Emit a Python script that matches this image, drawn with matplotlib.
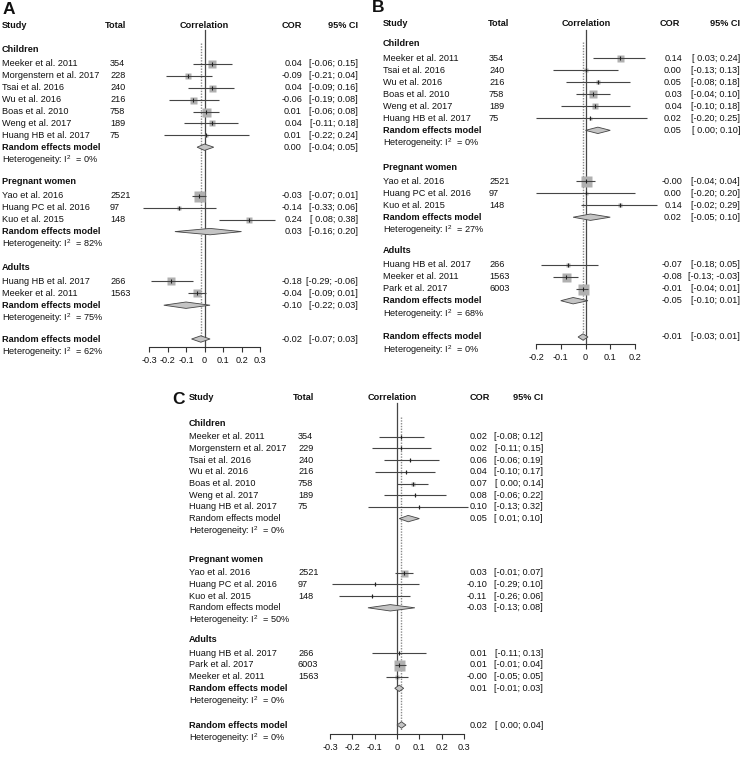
import matplotlib
matplotlib.use("Agg")
import matplotlib.pyplot as plt
from matplotlib import transforms
from matplotlib.patches import Polygon
import numpy as np

plt.rcParams['font.family'] = ['Liberation Sans', 'DejaVu Sans']
plt.rcParams['mathtext.fontset'] = 'custom'
plt.rcParams['mathtext.rm'] = 'Liberation Sans'
plt.rcParams['mathtext.it'] = 'Liberation Sans:italic'
plt.rcParams['mathtext.bf'] = 'Liberation Sans:bold'

W, H = 741, 770
FS = 6.6

# ------------------------------------------------------------------ data
group_names = ["Children", "Pregnant women", "Adults"]

# ---- Panel A
A_child_study = ["Meeker et al. 2011", "Morgenstern et al. 2017", "Tsai et al. 2016",
                 "Wu et al. 2016", "Boas et al. 2010", "Weng et al. 2017", "Huang HB et al. 2017"]
A_child_total = [354, 228, 240, 216, 758, 189, 75]
A_child_cor = [0.04, -0.09, 0.04, -0.06, 0.01, 0.04, 0.01]
A_child_lo = [-0.06, -0.21, -0.09, -0.19, -0.06, -0.11, -0.22]
A_child_hi = [0.15, 0.04, 0.16, 0.08, 0.08, 0.18, 0.24]
A_child_w = [6.4, 3.6, 4.9, 4.9, 8.1, 3.6, 0.9]

A_preg_study = ["Yao et al. 2016", "Huang PC et al. 2016", "Kuo et al. 2015"]
A_preg_total = [2521, 97, 148]
A_preg_cor = [-0.03, -0.14, 0.24]
A_preg_lo = [-0.07, -0.33, 0.08]
A_preg_hi = [0.01, 0.06, 0.38]
A_preg_w = [12.1, 2.5, 3.6]

A_adult_study = ["Huang HB et al. 2017", "Meeker et al. 2011"]
A_adult_total = [266, 1563]
A_adult_cor = [-0.18, -0.04]
A_adult_lo = [-0.29, -0.09]
A_adult_hi = [-0.06, 0.01]
A_adult_w = [6.4, 7.2]

A_sub_cor = [0.00, 0.03, -0.10]
A_sub_lo = [-0.04, -0.16, -0.22]
A_sub_hi = [0.05, 0.20, 0.03]
A_sub_i2 = [0, 82, 75]
A_all = [-0.02, -0.07, 0.03]
A_all_i2 = 62

# ---- Panel B
B_child_study = ["Meeker et al. 2011", "Tsai et al. 2016", "Wu et al. 2016",
                 "Boas et al. 2010", "Weng et al. 2017", "Huang HB et al. 2017"]
B_child_total = [354, 240, 216, 758, 189, 75]
B_child_cor = [0.14, 0.00, 0.05, 0.03, 0.04, 0.02]
B_child_lo = [0.03, -0.13, -0.08, -0.04, -0.10, -0.20]
B_child_hi = [0.24, 0.13, 0.18, 0.10, 0.18, 0.25]
B_child_w = [4.9, 2.5, 2.5, 6.4, 3.6, 0.9]

B_preg_study = ["Yao et al. 2016", "Huang PC et al. 2016", "Kuo et al. 2015"]
B_preg_total = [2521, 97, 148]
B_preg_cor = [-0.0, 0.00, 0.14]
B_preg_lo = [-0.04, -0.20, -0.02]
B_preg_hi = [0.04, 0.20, 0.29]
B_preg_w = [12.1, 0.9, 1.6]

B_adult_study = ["Huang HB et al. 2017", "Meeker et al. 2011", "Park et al. 2017"]
B_adult_total = [266, 1563, 6003]
B_adult_cor = [-0.07, -0.08, -0.01]
B_adult_lo = [-0.18, -0.13, -0.04]
B_adult_hi = [0.05, -0.03, 0.01]
B_adult_w = [2.5, 8.1, 12.1]

B_sub_cor = [0.05, 0.02, -0.05]
B_sub_lo = [0.00, -0.05, -0.10]
B_sub_hi = [0.10, 0.10, 0.01]
B_sub_i2 = [0, 27, 68]
B_all = [-0.01, -0.03, 0.01]
B_all_i2 = 0

# ---- Panel C
C_child_study = ["Meeker et al. 2011", "Morgenstern et al. 2017", "Tsai et al. 2016",
                 "Wu et al. 2016", "Boas et al. 2010", "Weng et al. 2017", "Huang HB et al. 2017"]
C_child_total = [354, 229, 240, 216, 758, 189, 75]
C_child_cor = [0.02, 0.02, 0.06, 0.04, 0.07, 0.08, 0.10]
C_child_lo = [-0.08, -0.11, -0.06, -0.10, 0.00, -0.06, -0.13]
C_child_hi = [0.12, 0.15, 0.19, 0.17, 0.14, 0.22, 0.32]
C_child_w = [0.6, 0.6, 0.6, 0.6, 2.5, 0.6, 0.4]

C_preg_study = ["Yao et al. 2016", "Huang PC et al. 2016", "Kuo et al. 2015"]
C_preg_total = [2521, 97, 148]
C_preg_cor = [0.03, -0.10, -0.11]
C_preg_lo = [-0.01, -0.29, -0.26]
C_preg_hi = [0.07, 0.10, 0.06]
C_preg_w = [4.9, 0.4, 0.6]

C_adult_study = ["Huang HB et al. 2017", "Park et al. 2017", "Meeker et al. 2011"]
C_adult_total = [266, 6003, 1563]
C_adult_cor = [0.01, 0.01, -0.0]
C_adult_lo = [-0.11, -0.01, -0.05]
C_adult_hi = [0.13, 0.04, 0.05]
C_adult_w = [0.6, 12.1, 1.6]

C_sub_cor = [0.05, -0.03, 0.01]
C_sub_lo = [0.01, -0.13, -0.01]
C_sub_hi = [0.10, 0.08, 0.03]
C_sub_i2 = [0, 50, 0]
C_all = [0.02, 0.00, 0.04]
C_all_i2 = 0

A_ticks = [-0.3, -0.2, -0.1, 0, 0.1, 0.2, 0.3]
B_ticks = [-0.2, -0.1, 0, 0.1, 0.2]
C_ticks = [-0.3, -0.2, -0.1, 0, 0.1, 0.2, 0.3]


def tick_label(v):
    return "0" if v == 0 else f"{v:g}"


panels = [
    dict(letter="A",
         groups=[(A_child_study, A_child_total, A_child_cor, A_child_lo, A_child_hi, A_child_w),
                 (A_preg_study, A_preg_total, A_preg_cor, A_preg_lo, A_preg_hi, A_preg_w),
                 (A_adult_study, A_adult_total, A_adult_cor, A_adult_lo, A_adult_hi, A_adult_w)],
         sub=(A_sub_cor, A_sub_lo, A_sub_hi, A_sub_i2), overall=A_all, overall_i2=A_all_i2,
         ticks=A_ticks, bold_re=[True, True, True],
         # layout (pixels)
         letter_xy=(3, 10), ax_x=(149, 260), top=20, axis_y=347, solid_top=30,
         dot_top=43, dot_bot=342, header_y=25,
         col=dict(study=2, total=110, cor=302, ci=358),
         hdr=dict(total=105, corr=204, cor=282),
         group_y=[52, 184, 269.5], overall_y=339, spacing=11.9),
    dict(letter="B",
         groups=[(B_child_study, B_child_total, B_child_cor, B_child_lo, B_child_hi, B_child_w),
                 (B_preg_study, B_preg_total, B_preg_cor, B_preg_lo, B_preg_hi, B_preg_w),
                 (B_adult_study, B_adult_total, B_adult_cor, B_adult_lo, B_adult_hi, B_adult_w)],
         sub=(B_sub_cor, B_sub_lo, B_sub_hi, B_sub_i2), overall=B_all, overall_i2=B_all_i2,
         ticks=B_ticks, bold_re=[True, True, True],
         letter_xy=(372, 8), ax_x=(536, 635), top=20, axis_y=344, solid_top=30,
         dot_top=42, dot_bot=340, header_y=23,
         col=dict(study=383, total=489, cor=682, ci=740),
         hdr=dict(total=488, corr=586, cor=660),
         group_y=[46, 169, 252.5], overall_y=337, spacing=12.05),
    dict(letter="C",
         groups=[(C_child_study, C_child_total, C_child_cor, C_child_lo, C_child_hi, C_child_w),
                 (C_preg_study, C_preg_total, C_preg_cor, C_preg_lo, C_preg_hi, C_preg_w),
                 (C_adult_study, C_adult_total, C_adult_cor, C_adult_lo, C_adult_hi, C_adult_w)],
         sub=(C_sub_cor, C_sub_lo, C_sub_hi, C_sub_i2), overall=C_all, overall_i2=C_all_i2,
         ticks=C_ticks, bold_re=[False, False, True],
         letter_xy=(172, 400), ax_x=(330, 464), top=395, axis_y=734, solid_top=403,
         dot_top=417, dot_bot=730, header_y=398,
         col=dict(study=189, total=298, cor=487, ci=543),
         hdr=dict(total=293, corr=392, cor=470),
         group_y=[425, 561, 641.5], overall_y=725, spacing=11.7),
]

SQ_COLOR = '#b0b0b0'
LINE_COLOR = '#454545'
DIA_FACE = '#c4c4c4'
DOT_COLOR = '#8a8a8a'
TXT = '#111111'

fig = plt.figure(figsize=(W / 100, H / 100), dpi=100)


def fmt_ci(lo, hi):
    return f"[{lo:5.2f}; {hi:.2f}]"


for p in panels:
    x0, x1 = p['ax_x']
    lims = (p['ticks'][0], p['ticks'][-1])
    top, axy = p['top'], p['axis_y']
    ax = fig.add_axes([x0 / W, 1 - axy / H, (x1 - x0) / W, (axy - top) / H])
    ax.set_xlim(*lims)
    ax.set_ylim(axy, top)
    ax.patch.set_visible(False)
    for s in ['top', 'left', 'right']:
        ax.spines[s].set_visible(False)
    ax.spines['bottom'].set_color('#333333')
    ax.spines['bottom'].set_linewidth(0.8)
    ax.set_yticks([])
    ax.set_xticks(p['ticks'])
    ax.set_xticklabels([tick_label(t) for t in p['ticks']])
    ax.tick_params(axis='x', direction='out', length=3.6, width=0.8, pad=2.6,
                   labelsize=FS, colors='#333333', labelcolor=TXT)

    tr = transforms.blended_transform_factory(fig.transFigure, ax.transData)
    c = p['col']
    h = p['hdr']
    fx = lambda v: v / W

    # panel letter
    lx, ly = p['letter_xy']
    fig.text(fx(lx), 1 - ly / H, p['letter'], fontsize=12.5, fontweight='bold',
             ha='left', va='center', color=TXT)

    # header
    hy = p['header_y']
    kw = dict(transform=tr, fontsize=FS, fontweight='bold', va='center', color=TXT, clip_on=False)
    ax.text(fx(c['study']), hy, "Study", ha='left', **kw)
    ax.text(fx(h['total']), hy, "Total", ha='left', **kw)
    ax.text(fx(h['corr']), hy, "Correlation", ha='center', **kw)
    ax.text(fx(h['cor']), hy, "COR", ha='left', **kw)
    ax.text(fx(c['ci']), hy, "95% CI", ha='right', **kw)

    # reference lines
    ov = p['overall']
    ax.plot([0, 0], [p['solid_top'], axy], color=LINE_COLOR, lw=0.9, zorder=1, clip_on=False)
    ax.plot([ov[0], ov[0]], [p['dot_top'], p['dot_bot']], color=DOT_COLOR, lw=1.0,
            ls=(0, (1, 1)), zorder=1, clip_on=False)

    sp = p['spacing']
    tkw = dict(transform=tr, fontsize=FS, va='center', color=TXT, clip_on=False)

    def diamond(cor, lo, hi, y):
        ax.add_patch(Polygon([(lo, y), (cor, y - 3.2), (hi, y), (cor, y + 3.2)],
                             closed=True, fc=DIA_FACE, ec=LINE_COLOR, lw=0.6,
                             zorder=3, clip_on=False))

    def values(cor, lo, hi, y):
        ax.text(fx(c['cor']), y, f"{cor:.2f}", ha='right', **tkw)
        ax.text(fx(c['ci']), y, fmt_ci(lo, hi), ha='right', **tkw)

    sub_cor, sub_lo, sub_hi, sub_i2 = p['sub']
    for gi, (gname, g) in enumerate(zip(group_names, p['groups'])):
        study, total, cor, lo, hi, w = g
        gy = p['group_y'][gi]
        ax.text(fx(c['study']), gy - 2, gname, ha='left', fontweight='bold', **tkw)
        for i in range(len(study)):
            y = gy + sp * (i + 1)
            ax.text(fx(c['study']), y, study[i], ha='left', **tkw)
            ax.text(fx(c['total']), y, str(total[i]), ha='left', **tkw)
            side = np.sqrt(10 * w[i])
            ax.plot([cor[i]], [y], marker='s', ms=side * 0.72, color=SQ_COLOR,
                    mec='none', zorder=2, clip_on=False)
            ax.plot([lo[i], hi[i]], [y, y], color=LINE_COLOR, lw=0.8, zorder=3,
                    solid_capstyle='butt', clip_on=False)
            ax.plot([cor[i]], [y], marker='|', ms=2.4, mew=0.8, color='#222222',
                    zorder=4, clip_on=False)
            values(cor[i], lo[i], hi[i], y)
        ry = gy + sp * (len(study) + 1)
        ax.text(fx(c['study']), ry, "Random effects model", ha='left',
                fontweight='bold' if p['bold_re'][gi] else 'normal', **tkw)
        diamond(sub_cor[gi], sub_lo[gi], sub_hi[gi], ry)
        values(sub_cor[gi], sub_lo[gi], sub_hi[gi], ry)
        ax.text(fx(c['study']), ry + sp + 1,
                r"Heterogeneity: I$^{2}$  = " + f"{sub_i2[gi]}%", ha='left', **tkw)

    oy = p['overall_y']
    ax.text(fx(c['study']), oy, "Random effects model", ha='left', fontweight='bold', **tkw)
    diamond(ov[0], ov[1], ov[2], oy)
    values(ov[0], ov[1], ov[2], oy)
    ax.text(fx(c['study']), oy + sp + 1,
            r"Heterogeneity: I$^{2}$  = " + f"{p['overall_i2']}%", ha='left', **tkw)

fig.savefig("out.png", dpi=100)
